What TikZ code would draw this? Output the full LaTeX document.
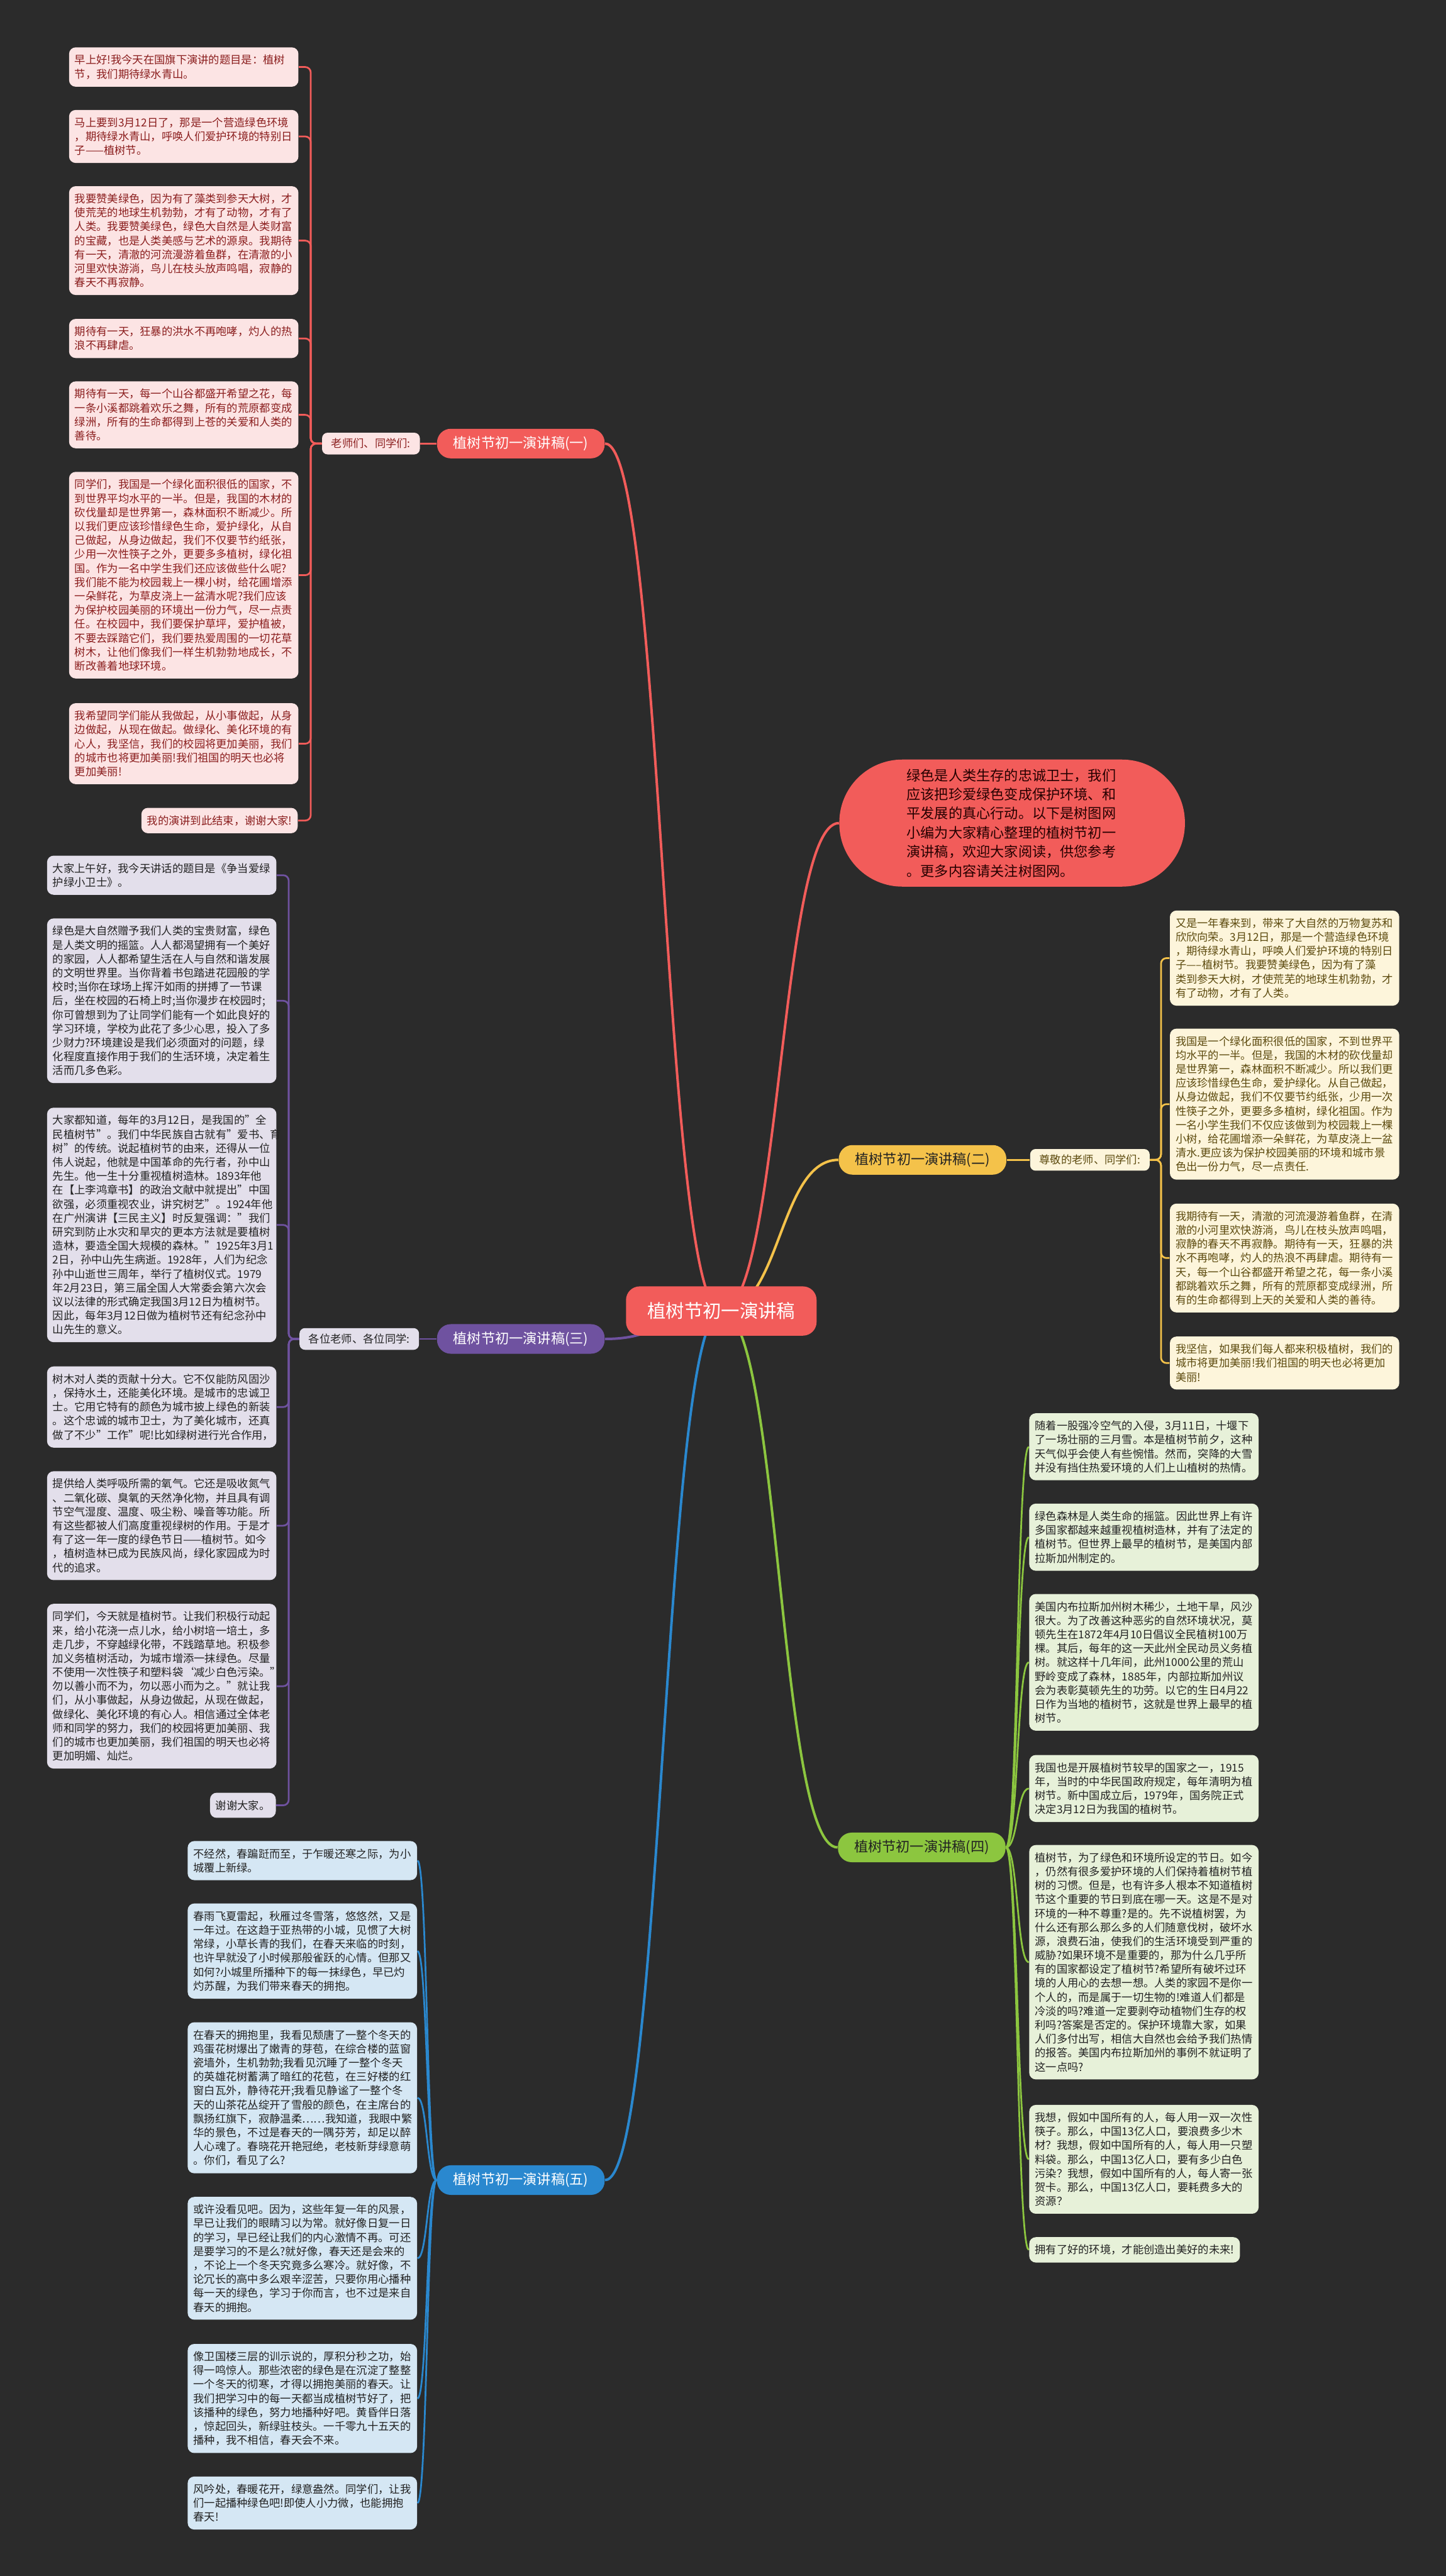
\documentclass[tikz,border=0pt]{standalone}
\usepackage{fontspec}
\setmainfont{Noto Sans CJK SC}
\usetikzlibrary{positioning}
\definecolor{bgdark}{HTML}{2B2B2B}
\definecolor{redc}{HTML}{F25C5A}
\definecolor{pinkfill}{HTML}{FCE4E4}
\definecolor{redtext}{HTML}{8B1E1E}
\definecolor{yellowc}{HTML}{F4C24A}
\definecolor{yellowfill}{HTML}{FDF5DB}
\definecolor{yellowtext}{HTML}{5C4A0E}
\definecolor{purplec}{HTML}{6F52A0}
\definecolor{purplefill}{HTML}{E3DFEB}
\definecolor{greenc}{HTML}{8CC63F}
\definecolor{greenfill}{HTML}{E7F1D9}
\definecolor{bluec}{HTML}{2A88CF}
\definecolor{bluefill}{HTML}{D5E7F4}
\definecolor{darktext}{HTML}{222222}
\pgfdeclarelayer{back}
\pgfdeclarelayer{links}
\pgfsetlayers{back,links,main}
\tikzset{
    boxbase/.style={rounded corners=0.12cm, align=left, inner xsep=0.104cm, inner ysep=3.9pt, font=\fontsize{5.65pt}{7.25pt}\selectfont},
    box/.style={boxbase, text width=3.98cm},
    redbox/.style={box, fill=pinkfill, text=redtext, anchor=north west},
    purplebox/.style={box, fill=purplefill, text=darktext, anchor=north west},
    bluebox/.style={box, fill=bluefill, text=darktext, anchor=north west},
    yellowbox/.style={box, fill=yellowfill, text=yellowtext, anchor=north west},
    greenbox/.style={box, fill=greenfill, text=darktext, anchor=north west},
    tag/.style={rounded corners=0.1cm, inner xsep=0.17cm, inner ysep=3pt, font=\fontsize{5.65pt}{7.25pt}\selectfont},
    branch/.style={rounded corners=0.25cm, minimum width=3.06cm, minimum height=0.54cm, inner sep=0pt, font=\fontsize{7.25pt}{8pt}\selectfont},
    link/.style={line width=0.9pt},
    rootlink/.style={line width=1.3pt},
    toleft/.style={out=180, in=0, out distance=#1, in distance=#1},
    toright/.style={out=0, in=180, out distance=#1, in distance=#1}
}
\begin{document}
\begin{tikzpicture}[x=0.03cm, y=-0.03cm]
    \useasboundingbox (0,0) rectangle (880,1568);
    \begin{pgfonlayer}{back}
        \fill[bgdark] (0,0) rectangle (880,1568);
    \end{pgfonlayer}

    % root and its summary
    \node [fill=redc, text=white, rounded corners=0.25cm, minimum width=3.48cm, minimum height=0.9cm, font=\fontsize{9.6pt}{11pt}\selectfont] (root) at (439,798) {植树节初一演讲稿};
    \node [fill=redc, text=black!85!red, rounded corners=1.15cm, minimum width=6.31cm, minimum height=2.32cm, text width=3.85cm, align=left, font=\fontsize{7.25pt}{9.95pt}\selectfont] (desc) at (616,501) {绿色是人类生存的忠诚卫士，我们\\应该把珍爱绿色变成保护环境、和\\平发展的真心行动。以下是树图网\\小编为大家精心整理的植树节初一\\演讲稿，欢迎大家阅读，供您参考\\。更多内容请关注树图网。};

    % branches
    \node [branch, fill=redc, text=white] (br1) at (317,270) {植树节初一演讲稿(一)};
    \node [branch, fill=yellowc, text=darktext] (br2) at (561.5,706) {植树节初一演讲稿(二)};
    \node [branch, fill=purplec, text=white] (br3) at (317,815) {植树节初一演讲稿(三)};
    \node [branch, fill=greenc, text=darktext] (br4) at (561,1124.5) {植树节初一演讲稿(四)};
    \node [branch, fill=bluec, text=white] (br5) at (317,1327) {植树节初一演讲稿(五)};

    \node [tag, fill=pinkfill, text=redtext, left=0.3cm of br1] (lab1) {老师们、同学们:};
    \node [tag, fill=yellowfill, text=yellowtext, right=0.42cm of br2] (lab2) {尊敬的老师、同学们:};
    \node [tag, fill=purplefill, text=darktext, left=0.315cm of br3] (lab3) {各位老师、各位同学:};

    % (一)
    \node [redbox] (r1) at (41.8,28.6) {早上好!我今天在国旗下演讲的题目是：植树\\节，我们期待绿水青山。};
    \node [redbox] (r2) at (41.8,66.7) {马上要到3月12日了，那是一个营造绿色环境\\，期待绿水青山，呼唤人们爱护环境的特别日\\子——植树节。};
    \node [redbox] (r3) at (41.8,113.1) {我要赞美绿色，因为有了藻类到参天大树，才\\使荒芜的地球生机勃勃，才有了动物，才有了\\人类。我要赞美绿色，绿色大自然是人类财富\\的宝藏，也是人类美感与艺术的源泉。我期待\\有一天，清澈的河流漫游着鱼群，在清澈的小\\河里欢快游淌，鸟儿在枝头放声鸣唱，寂静的\\春天不再寂静。};
    \node [redbox] (r4) at (41.8,193.9) {期待有一天，狂暴的洪水不再咆哮，灼人的热\\浪不再肆虐。};
    \node [redbox] (r5) at (41.8,231.9) {期待有一天，每一个山谷都盛开希望之花，每\\一条小溪都跳着欢乐之舞，所有的荒原都变成\\绿洲，所有的生命都得到上苍的关爱和人类的\\善待。};
    \node [redbox] (r6) at (41.8,287) {同学们，我国是一个绿化面积很低的国家，不\\到世界平均水平的一半。但是，我国的木材的\\砍伐量却是世界第一，森林面积不断减少。所\\以我们更应该珍惜绿色生命，爱护绿化，从自\\己做起，从身边做起，我们不仅要节约纸张，\\少用一次性筷子之外，更要多多植树，绿化祖\\国。作为一名中学生我们还应该做些什么呢?\\我们能不能为校园栽上一棵小树，给花圃增添\\一朵鲜花，为草皮浇上一盆清水呢?我们应该\\为保护校园美丽的环境出一份力气，尽一点责\\任。在校园中，我们要保护草坪，爱护植被，\\不要去踩踏它们，我们要热爱周围的一切花草\\树木，让他们像我们一样生机勃勃地成长，不\\断改善着地球环境。};
    \node [redbox] (r7) at (41.8,427.8) {我希望同学们能从我做起，从小事做起，从身\\边做起，从现在做起。做绿化、美化环境的有\\心人，我坚信，我们的校园将更加美丽，我们\\的城市也将更加美丽!我们祖国的明天也必将\\更加美丽!};
    \node [boxbase, fill=pinkfill, text=redtext, anchor=north east] (r8) at (181.4,491.5) {我的演讲到此结束，谢谢大家!};

    % (二)
    \node [yellowbox] (y1) at (711.8,554) {又是一年春来到，带来了大自然的万物复苏和\\欣欣向荣。3月12日，那是一个营造绿色环境\\，期待绿水青山，呼唤人们爱护环境的特别日\\子-----植树节。我要赞美绿色，因为有了藻\\类到参天大树，才使荒芜的地球生机勃勃，才\\有了动物，才有了人类。};
    \node [yellowbox] (y2) at (711.8,625.9) {我国是一个绿化面积很低的国家，不到世界平\\均水平的一半。但是，我国的木材的砍伐量却\\是世界第一，森林面积不断减少。所以我们更\\应该珍惜绿色生命，爱护绿化。从自己做起，\\从身边做起，我们不仅要节约纸张，少用一次\\性筷子之外，更要多多植树，绿化祖国。作为\\一名小学生我们不仅应该做到为校园栽上一棵\\小树，给花圃增添一朵鲜花，为草皮浇上一盆\\清水.更应该为保护校园美丽的环境和城市景\\色出一份力气，尽一点责任.};
    \node [yellowbox] (y3) at (711.8,732.4) {我期待有一天，清澈的河流漫游着鱼群，在清\\澈的小河里欢快游淌，鸟儿在枝头放声鸣唱，\\寂静的春天不再寂静。期待有一天，狂暴的洪\\水不再咆哮，灼人的热浪不再肆虐。期待有一\\天，每一个山谷都盛开希望之花，每一条小溪\\都跳着欢乐之舞，所有的荒原都变成绿洲，所\\有的生命都得到上天的关爱和人类的善待。};
    \node [yellowbox] (y4) at (711.8,813.3) {我坚信，如果我们每人都来积极植树，我们的\\城市将更加美丽!我们祖国的明天也必将更加\\美丽!};

    % (三)
    \node [purplebox] (p1) at (28.4,520.6) {大家上午好，我今天讲话的题目是《争当爱绿\\护绿小卫士》。};
    \node [purplebox] (p2) at (28.4,558.8) {绿色是大自然赠予我们人类的宝贵财富，绿色\\是人类文明的摇篮。人人都渴望拥有一个美好\\的家园，人人都希望生活在人与自然和谐发展\\的文明世界里。当你背着书包踏进花园般的学\\校时;当你在球场上挥汗如雨的拼搏了一节课\\后，坐在校园的石椅上时;当你漫步在校园时;\\你可曾想到为了让同学们能有一个如此良好的\\学习环境，学校为此花了多少心思，投入了多\\少财力?环境建设是我们必须面对的问题，绿\\化程度直接作用于我们的生活环境，决定着生\\活而几多色彩。};
    \node [purplebox] (p3) at (28.4,674) {大家都知道，每年的3月12日，是我国的"全\\民植树节"。我们中华民族自古就有"爱书、育\\树"的传统。说起植树节的由来，还得从一位\\伟人说起，他就是中国革命的先行者，孙中山\\先生。他一生十分重视植树造林。1893年他\\在【上李鸿章书】的政治文献中就提出"中国\\欲强，必须重视农业，讲究树艺"。1924年他\\在广州演讲【三民主义】时反复强调："我们\\研究到防止水灾和旱灾的更本方法就是要植树\\造林，要造全国大规模的森林。"1925年3月1\\2日，孙中山先生病逝。1928年，人们为纪念\\孙中山逝世三周年，举行了植树仪式。1979\\年2月23日，第三届全国人大常委会第六次会\\议以法律的形式确定我国3月12日为植树节。\\因此，每年3月12日做为植树节还有纪念孙中\\山先生的意义。};
    \node [purplebox] (p4) at (28.4,831.5) {树木对人类的贡献十分大。它不仅能防风固沙\\，保持水土，还能美化环境。是城市的忠诚卫\\士。它用它特有的颜色为城市披上绿色的新装\\。这个忠诚的城市卫士，为了美化城市，还真\\做了不少"工作"呢!比如绿树进行光合作用，};
    \node [purplebox] (p5) at (28.4,895.3) {提供给人类呼吸所需的氧气。它还是吸收氮气\\、二氧化碳、臭氧的天然净化物，并且具有调\\节空气湿度、温度、吸尘粉、噪音等功能。所\\有这些都被人们高度重视绿树的作用。于是才\\有了这一年一度的绿色节日——植树节。如今\\，植树造林已成为民族风尚，绿化家园成为时\\代的追求。};
    \node [purplebox] (p6) at (28.4,976) {同学们，今天就是植树节。让我们积极行动起\\来，给小花浇一点儿水，给小树培一培土，多\\走几步，不穿越绿化带，不践踏草地。积极参\\加义务植树活动，为城市增添一抹绿色。尽量\\不使用一次性筷子和塑料袋‘减少白色污染。"\\勿以善小而不为，勿以恶小而为之。"就让我\\们，从小事做起，从身边做起，从现在做起，\\做绿化、美化环境的有心人。相信通过全体老\\师和同学的努力，我们的校园将更加美丽、我\\们的城市也更加美丽，我们祖国的明天也必将\\更加明媚、灿烂。};
    \node [boxbase, fill=purplefill, text=darktext, anchor=north east] (p7) at (168.1,1091) {谢谢大家。};

    % (四)
    \node [greenbox] (g1) at (626.2,860) {随着一股强冷空气的入侵，3月11日，十堰下\\了一场壮丽的三月雪。本是植树节前夕，这种\\天气似乎会使人有些惋惜。然而，突降的大雪\\并没有挡住热爱环境的人们上山植树的热情。};
    \node [greenbox] (g2) at (626.2,915) {绿色森林是人类生命的摇篮。因此世界上有许\\多国家都越来越重视植树造林，并有了法定的\\植树节。但世界上最早的植树节，是美国内部\\拉斯加州制定的。};
    \node [greenbox] (g3) at (626.2,970) {美国内布拉斯加州树木稀少，土地干旱，风沙\\很大。为了改善这种恶劣的自然环境状况，莫\\顿先生在1872年4月10日倡议全民植树100万\\棵。其后，每年的这一天此州全民动员义务植\\树。就这样十几年间，此州1000公里的荒山\\野岭变成了森林，1885年，内部拉斯加州议\\会为表彰莫顿先生的功劳。以它的生日4月22\\日作为当地的植树节，这就是世界上最早的植\\树节。};
    \node [greenbox] (g4) at (626.2,1068) {我国也是开展植树节较早的国家之一，1915\\年，当时的中华民国政府规定，每年清明为植\\树节。新中国成立后，1979年，国务院正式\\决定3月12日为我国的植树节。};
    \node [greenbox] (g5) at (626.2,1122.8) {植树节，为了绿色和环境所设定的节日。如今\\，仍然有很多爱护环境的人们保持着植树节植\\树的习惯。但是，也有许多人根本不知道植树\\节这个重要的节日到底在哪一天。这是不是对\\环境的一种不尊重?是的。先不说植树罢，为\\什么还有那么那么多的人们随意伐树，破坏水\\源，浪费石油，使我们的生活环境受到严重的\\威胁?如果环境不是重要的，那为什么几乎所\\有的国家都设定了植树节?希望所有破坏过环\\境的人用心的去想一想。人类的家园不是你一\\个人的，而是属于一切生物的!难道人们都是\\冷淡的吗?难道一定要剥夺动植物们生存的权\\利吗?答案是否定的。保护环境靠大家，如果\\人们多付出写，相信大自然也会给予我们热情\\的报答。美国内布拉斯加州的事例不就证明了\\这一点吗?};
    \node [greenbox] (g6) at (626.2,1281) {我想，假如中国所有的人，每人用一双一次性\\筷子。那么，中国13亿人口，要浪费多少木\\材？我想，假如中国所有的人，每人用一只塑\\料袋。那么，中国13亿人口，要有多少白色\\污染？我想，假如中国所有的人，每人寄一张\\贺卡。那么，中国13亿人口，要耗费多大的\\资源？};
    \node [boxbase, fill=greenfill, text=darktext, anchor=north west] (g7) at (626.2,1361.5) {拥有了好的环境，才能创造出美好的未来!};

    % (五)
    \node [bluebox] (q1) at (114,1120.4) {不经然，春蹁跹而至，于乍暖还寒之际，为小\\城覆上新绿。};
    \node [bluebox] (q2) at (114,1158.4) {春雨飞夏雷起，秋雁过冬雪落，悠悠然，又是\\一年过。在这趋于亚热带的小城，见惯了大树\\常绿，小草长青的我们，在春天来临的时刻，\\也许早就没了小时候那般雀跃的心情。但那又\\如何?小城里所播种下的每一抹绿色，早已灼\\灼苏醒，为我们带来春天的拥抱。};
    \node [bluebox] (q3) at (114,1230.7) {在春天的拥抱里，我看见颓唐了一整个冬天的\\鸡蛋花树爆出了嫩青的芽苞，在综合楼的蓝窗\\瓷墙外，生机勃勃;我看见沉睡了一整个冬天\\的英雄花树蓄满了暗红的花苞，在三好楼的红\\窗白瓦外，静待花开;我看见静谧了一整个冬\\天的山茶花丛绽开了雪般的颜色，在主席台的\\飘扬红旗下，寂静温柔……我知道，我眼中繁\\华的景色，不过是春天的一隅芬芳，却足以醉\\人心魂了。春晓花开艳冠绝，老枝新芽绿意萌\\。你们，看见了么?};
    \node [bluebox] (q4) at (114,1337) {或许没看见吧。因为，这些年复一年的风景，\\早已让我们的眼睛习以为常。就好像日复一日\\的学习，早已经让我们的内心激情不再。可还\\是要学习的不是么?就好像，春天还是会来的\\，不论上一个冬天究竟多么寒冷。就好像，不\\论冗长的高中多么艰辛涩苦，只要你用心播种\\每一天的绿色，学习于你而言，也不过是来自\\春天的拥抱。};
    \node [bluebox] (q5) at (114,1426.5) {像卫国楼三层的训示说的，厚积分秒之功，始\\得一鸣惊人。那些浓密的绿色是在沉淀了整整\\一个冬天的彻寒，才得以拥抱美丽的春天。让\\我们把学习中的每一天都当成植树节好了，把\\该播种的绿色，努力地播种好吧。黄昏伴日落\\，惊起回头，新绿驻枝头。一千零九十五天的\\播种，我不相信，春天会不来。};
    \node [bluebox] (q6) at (114,1507.2) {风吟处，春暖花开，绿意盎然。同学们，让我\\们一起播种绿色吧!即使人小力微，也能拥抱\\春天!};

    \begin{pgfonlayer}{links}
        % root to branches
        \draw [rootlink, redc] (root.center) to[toleft=1.07cm] (br1.east);
        \draw [rootlink, redc] (root.center) to[toright=1.08cm] (desc.west);
        \draw [rootlink, yellowc] (root.center) to[toright=1.09cm] (br2.west);
        \draw [rootlink, purplec] (root.center) to[toleft=1.07cm] (br3.east);
        \draw [rootlink, greenc] (root.center) to[toright=1.08cm] (br4.west);
        \draw [rootlink, bluec] (root.center) to[toleft=1.07cm] (br5.east);
        % branches to tags
        \draw [link, redc] (br1.west) -- (lab1.east);
        \draw [link, yellowc] (br2.east) -- (lab2.west);
        \draw [link, purplec] (br3.west) -- (lab3.east);
        % brackets
        \foreach \b in {r1,r2,r3,r4,r5,r6,r7,r8}
            \draw [link, redc, rounded corners=0.1cm] (lab1.west) -- ++(-0.2cm,0) |- (\b.east);
        \foreach \b in {y1,y2,y3,y4}
            \draw [link, yellowc, rounded corners=0.1cm] (lab2.east) -- ++(0.2cm,0) |- (\b.west);
        \foreach \b in {p1,p2,p3,p4,p5,p6,p7}
            \draw [link, purplec, rounded corners=0.1cm] (lab3.west) -- ++(-0.19cm,0) |- (\b.east);
        % fans
        \foreach \b in {g1,g2,g3,g4,g5,g6,g7}
            \draw [link, greenc] (br4.east) .. controls +(0.22cm,0) and +(-0.22cm,0) .. (\b.west);
        \foreach \b in {q1,q2,q3,q4,q5,q6}
            \draw [link, bluec] (br5.west) .. controls +(-0.18cm,0) and +(0.18cm,0) .. (\b.east);
    \end{pgfonlayer}
\end{tikzpicture}
\end{document}
